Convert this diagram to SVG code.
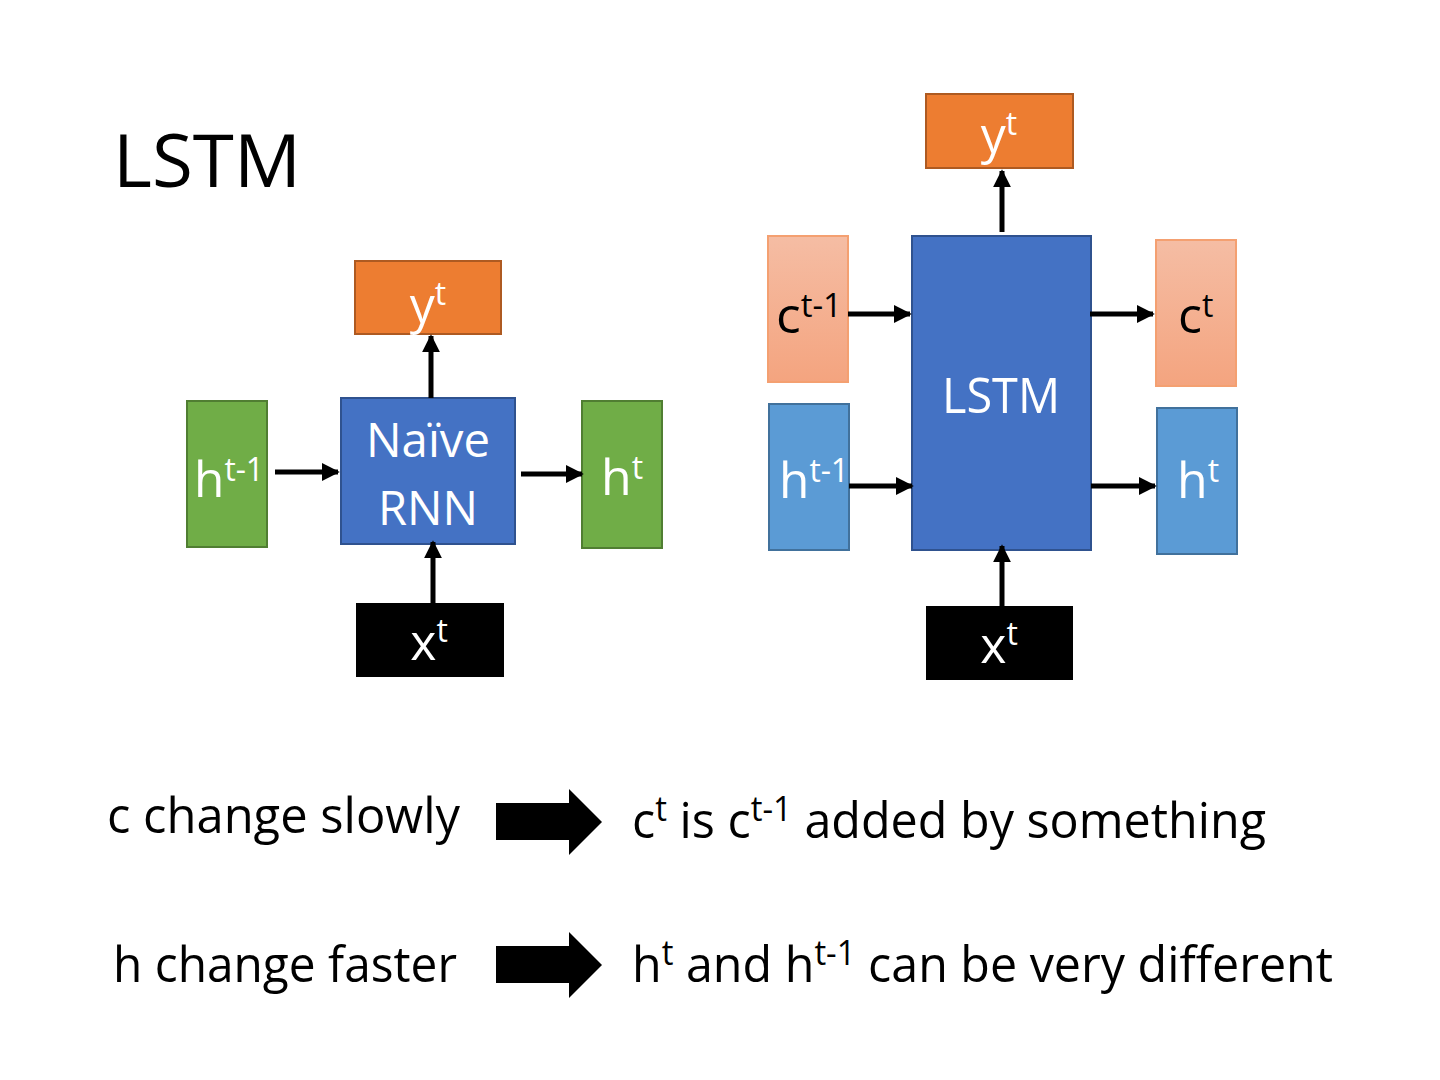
<svg xmlns="http://www.w3.org/2000/svg" width="1440" height="1080" viewBox="0 0 1440 1080">
<style>
text{font-family:"Open Sans","Liberation Sans",sans-serif;}
.w{fill:#fff}
.k{fill:#000}
.orange{fill:#ED7D31;stroke:#AE5A21;stroke-width:2}
.green{fill:#70AD47;stroke:#507E32;stroke-width:2}
.blue{fill:#4472C4;stroke:#2F528F;stroke-width:2}
.lblue{fill:#5B9BD5;stroke:#41719C;stroke-width:2}
.peach{fill:url(#pg);stroke:#F4A071;stroke-width:2}
.black{fill:#000}
.conn line{stroke:#000;stroke-width:5;marker-end:url(#ah)}
</style>
<defs>
<linearGradient id="pg" x1="0" y1="0" x2="0" y2="1">
<stop offset="0" stop-color="#F5BDA4"/>
<stop offset="1" stop-color="#F4A47F"/>
</linearGradient>
<marker id="ah" viewBox="0 0 10 10" refX="9" refY="5" markerWidth="3.6" markerHeight="3.6" orient="auto" markerUnits="strokeWidth">
<path d="M0,0 L10,5 L0,10 Z" fill="#000"/>
</marker>
</defs>
<rect width="1440" height="1080" fill="#fff"/>
<text x="113" y="187" font-size="74" class="k" textLength="188" lengthAdjust="spacingAndGlyphs">LSTM</text>

<!-- left diagram -->
<g id="l-yt"><rect class="orange" x="355" y="261" width="146" height="73"/><text x="428" y="323" font-size="50" class="w" text-anchor="middle">y<tspan font-size="32" dy="-18">t</tspan></text></g>
<g id="l-hprev"><rect class="green" x="187" y="401" width="80" height="146"/><text x="194" y="497" font-size="50" class="w" textLength="70" lengthAdjust="spacingAndGlyphs">h<tspan font-size="32" dy="-16">t-1</tspan></text></g>
<g id="l-rnn"><rect class="blue" x="341" y="398" width="174" height="146"/><text x="428" y="457" font-size="48" class="w" text-anchor="middle" textLength="124" lengthAdjust="spacingAndGlyphs">Naïve</text><text x="428" y="525" font-size="48" class="w" text-anchor="middle" textLength="100" lengthAdjust="spacingAndGlyphs">RNN</text></g>
<g id="l-ht"><rect class="green" x="582" y="401" width="80" height="147"/><text x="601" y="495" font-size="50" class="w">h<tspan font-size="32" dy="-16">t</tspan></text></g>
<g id="l-xt"><rect class="black" x="356" y="603" width="148" height="74"/><text x="429" y="660" font-size="50" class="w" text-anchor="middle">x<tspan font-size="32" dy="-18">t</tspan></text></g>

<!-- right diagram -->
<g id="r-yt"><rect class="orange" x="926" y="94" width="147" height="74"/><text x="999" y="153" font-size="50" class="w" text-anchor="middle">y<tspan font-size="32" dy="-18">t</tspan></text></g>
<g id="r-lstm"><rect class="blue" x="912" y="236" width="179" height="314"/><text x="1001" y="413" font-size="50" class="w" text-anchor="middle" textLength="118" lengthAdjust="spacingAndGlyphs">LSTM</text></g>
<g id="r-cprev"><rect class="peach" x="768" y="236" width="80" height="146"/><text x="776" y="333" font-size="50" class="k" textLength="66" lengthAdjust="spacingAndGlyphs">c<tspan font-size="32" dy="-16">t-1</tspan></text></g>
<g id="r-hprev"><rect class="lblue" x="769" y="404" width="80" height="146"/><text x="779" y="498" font-size="50" class="w" textLength="70" lengthAdjust="spacingAndGlyphs">h<tspan font-size="32" dy="-16">t-1</tspan></text></g>
<g id="r-ct"><rect class="peach" x="1156" y="240" width="80" height="146"/><text x="1178" y="333" font-size="50" class="k">c<tspan font-size="32" dy="-16">t</tspan></text></g>
<g id="r-ht"><rect class="lblue" x="1157" y="408" width="80" height="146"/><text x="1177" y="498" font-size="50" class="w">h<tspan font-size="32" dy="-16">t</tspan></text></g>
<g id="r-xt"><rect class="black" x="926" y="606" width="147" height="74"/><text x="999" y="663" font-size="50" class="w" text-anchor="middle">x<tspan font-size="32" dy="-18">t</tspan></text></g>

<g id="connectors" class="conn">
<line x1="275" y1="472" x2="338" y2="472"/>
<line x1="521" y1="474" x2="582" y2="474"/>
<line x1="431" y1="398" x2="431" y2="336"/>
<line x1="433" y1="603" x2="433" y2="542"/>
<line x1="848" y1="314" x2="910" y2="314"/>
<line x1="849" y1="486" x2="912" y2="486"/>
<line x1="1090" y1="314" x2="1153" y2="314"/>
<line x1="1091" y1="486" x2="1155" y2="486"/>
<line x1="1002" y1="232" x2="1002" y2="171"/>
<line x1="1002" y1="606" x2="1002" y2="546"/>
</g>

<!-- bottom -->
<g id="block-arrows">
<path d="M496,803 H569 V789 L602,822 L569,855 V840 H496 Z" fill="#000"/>
<path d="M496,946 H569 V932 L602,965 L569,998 V983 H496 Z" fill="#000"/>
</g>
<text x="107" y="833" font-size="50" class="k" textLength="353" lengthAdjust="spacingAndGlyphs">c change slowly</text>
<text x="113" y="982" font-size="50" class="k" textLength="344" lengthAdjust="spacingAndGlyphs">h change faster</text>
<text x="632" y="838" font-size="50" class="k" textLength="634" lengthAdjust="spacingAndGlyphs">c<tspan font-size="34" dy="-17">t</tspan><tspan dy="17"> is c</tspan><tspan font-size="34" dy="-17">t-1</tspan><tspan dy="17"> added by something</tspan></text>
<text x="632" y="982" font-size="50" class="k" textLength="701" lengthAdjust="spacingAndGlyphs">h<tspan font-size="34" dy="-17">t</tspan><tspan dy="17"> and h</tspan><tspan font-size="34" dy="-17">t-1</tspan><tspan dy="17"> can be very different</tspan></text>
</svg>
